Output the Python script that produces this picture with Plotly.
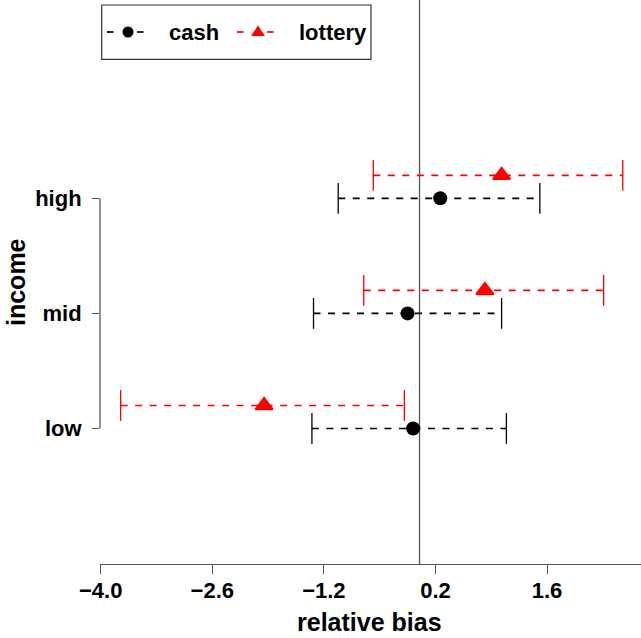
import plotly.graph_objects as go

# Income groups and their positions on the y axis
categories = ["low", "mid", "high"]
cat_pos = [1, 2, 3]
lottery_shift = 0.2

# Relative bias estimates with interval bounds
cash_est = [-0.08, -0.15, 0.26]
cash_lo = [-1.35, -1.33, -1.02]
cash_hi = [1.09, 1.03, 1.51]

lottery_est = [-1.95, 0.82, 1.03]
lottery_lo = [-3.75, -0.70, -0.58]
lottery_hi = [-0.19, 2.31, 2.55]

x_ticks = [-4.0, -2.6, -1.2, 0.2, 1.6]

FONT = "Liberation Sans, Arial, Helvetica, sans-serif"
AXIS_COL = "#555555"
RED = "#ff0000"
DASH = "7px,7.5px"

W, H = 641, 638
ML, MR, MT, MB = 100, 0, 0, 74
PW, PH = W - ML - MR, H - MT - MB


def px(x):
    """pixel column -> paper x"""
    return (x - ML) / PW


def py(y):
    """pixel row -> paper y"""
    return 1 - (y - MT) / PH


def add_series(fig, est, lo, hi, ypos, color, symbol, size, mline):
    # dashed interval segments
    xs, ys = [], []
    for l, h, y in zip(lo, hi, ypos):
        xs += [l, h, None]
        ys += [y, y, None]
    fig.add_trace(go.Scatter(x=xs, y=ys, mode="lines", showlegend=False,
                             line=dict(color=color, width=1.7, dash=DASH),
                             hoverinfo="skip"))
    # end caps
    fig.add_trace(go.Scatter(x=lo + hi, y=ypos + ypos, mode="markers", showlegend=False,
                             marker=dict(symbol="line-ns", size=22,
                                         line=dict(color=color, width=1.3)),
                             hoverinfo="skip"))
    # point estimates
    fig.add_trace(go.Scatter(x=est, y=ypos, mode="markers", showlegend=False,
                             marker=dict(symbol=symbol, size=size, color=color,
                                         line=dict(color=color, width=mline))))


fig = go.Figure()
add_series(fig, cash_est, cash_lo, cash_hi, cat_pos, "black", "circle", 14, 0)
add_series(fig, lottery_est, lottery_lo, lottery_hi,
           [p + lottery_shift for p in cat_pos], RED, "triangle-up", 15, 2)

shapes = [
    # reference line at zero bias
    dict(type="line", xref="x", yref="paper", x0=0, x1=0, y0=0, y1=1,
         line=dict(color=AXIS_COL, width=1.3), layer="below"),
    # y axis spine between first and last category
    dict(type="line", xref="paper", yref="y", x0=0, x1=0,
         y0=cat_pos[0], y1=cat_pos[-1], line=dict(color=AXIS_COL, width=1.3)),
    # legend frame
    dict(type="rect", xref="paper", yref="paper", x0=px(101.7), x1=px(371),
         y0=py(59.3), y1=py(5), line=dict(color="#333333", width=1.2),
         fillcolor="white", layer="below"),
]

# legend keys: "- o -" and "- ^ -"
ky = 32
for color, (a, b) in [("black", (107, 137)), (RED, (237, 267))]:
    for s in (a, b):
        shapes.append(dict(type="line", xref="paper", yref="paper",
                           x0=px(s), x1=px(s + 6.6), y0=py(ky), y1=py(ky),
                           line=dict(color=color, width=1.7)))
shapes.append(dict(type="circle", xref="paper", yref="paper",
                   x0=px(122.5), x1=px(133.5), y0=py(37.5), y1=py(26.5),
                   fillcolor="black", line=dict(color="black", width=0)))
shapes.append(dict(type="path", xref="paper", yref="paper",
                   path=f"M {px(251)},{py(36)} L {px(265)},{py(36)} L {px(258)},{py(25.5)} Z",
                   fillcolor=RED, line=dict(color=RED, width=0)))

annotations = [
    dict(text="cash", xref="paper", yref="paper", x=px(167), y=py(32.5),
         xanchor="left", yanchor="middle", showarrow=False,
         font=dict(size=22, weight="bold", family=FONT)),
    dict(text="lottery", xref="paper", yref="paper", x=px(297), y=py(32.5),
         xanchor="left", yanchor="middle", showarrow=False,
         font=dict(size=22, weight="bold", family=FONT)),
    dict(text="relative bias", xref="paper", yref="paper", x=0.499, y=py(638),
         xanchor="center", yanchor="bottom", showarrow=False,
         font=dict(size=25, weight="bold", family=FONT)),
    dict(text="income", xref="paper", yref="paper", x=px(16), y=0.5,
         xanchor="center", yanchor="middle", showarrow=False, textangle=-90,
         font=dict(size=25, weight="bold", family=FONT)),
]

fig.update_layout(
    width=W, height=H,
    margin=dict(l=ML, r=MR, t=MT, b=MB),
    plot_bgcolor="white", paper_bgcolor="white",
    font=dict(family=FONT, color="black"),
    showlegend=False,
    xaxis=dict(range=[-4.009, 2.779], tickvals=x_ticks, tickformat=".1f",
               showgrid=False, zeroline=False, showline=True, linecolor=AXIS_COL,
               linewidth=1.3, ticks="outside", ticklen=9, tickcolor=AXIS_COL,
               tickwidth=1.3, tickfont=dict(size=22, weight="bold", family=FONT),
               ticklabelstandoff=-3),
    yaxis=dict(range=[-0.177, 4.723], tickvals=cat_pos, ticktext=categories,
               showgrid=False, zeroline=False, showline=False,
               ticks="outside", ticklen=7, tickcolor=AXIS_COL, tickwidth=1.3,
               tickfont=dict(size=22, weight="bold", family=FONT),
               ticklabelstandoff=6),
    shapes=shapes,
    annotations=annotations,
)

fig.write_html("out.html")
